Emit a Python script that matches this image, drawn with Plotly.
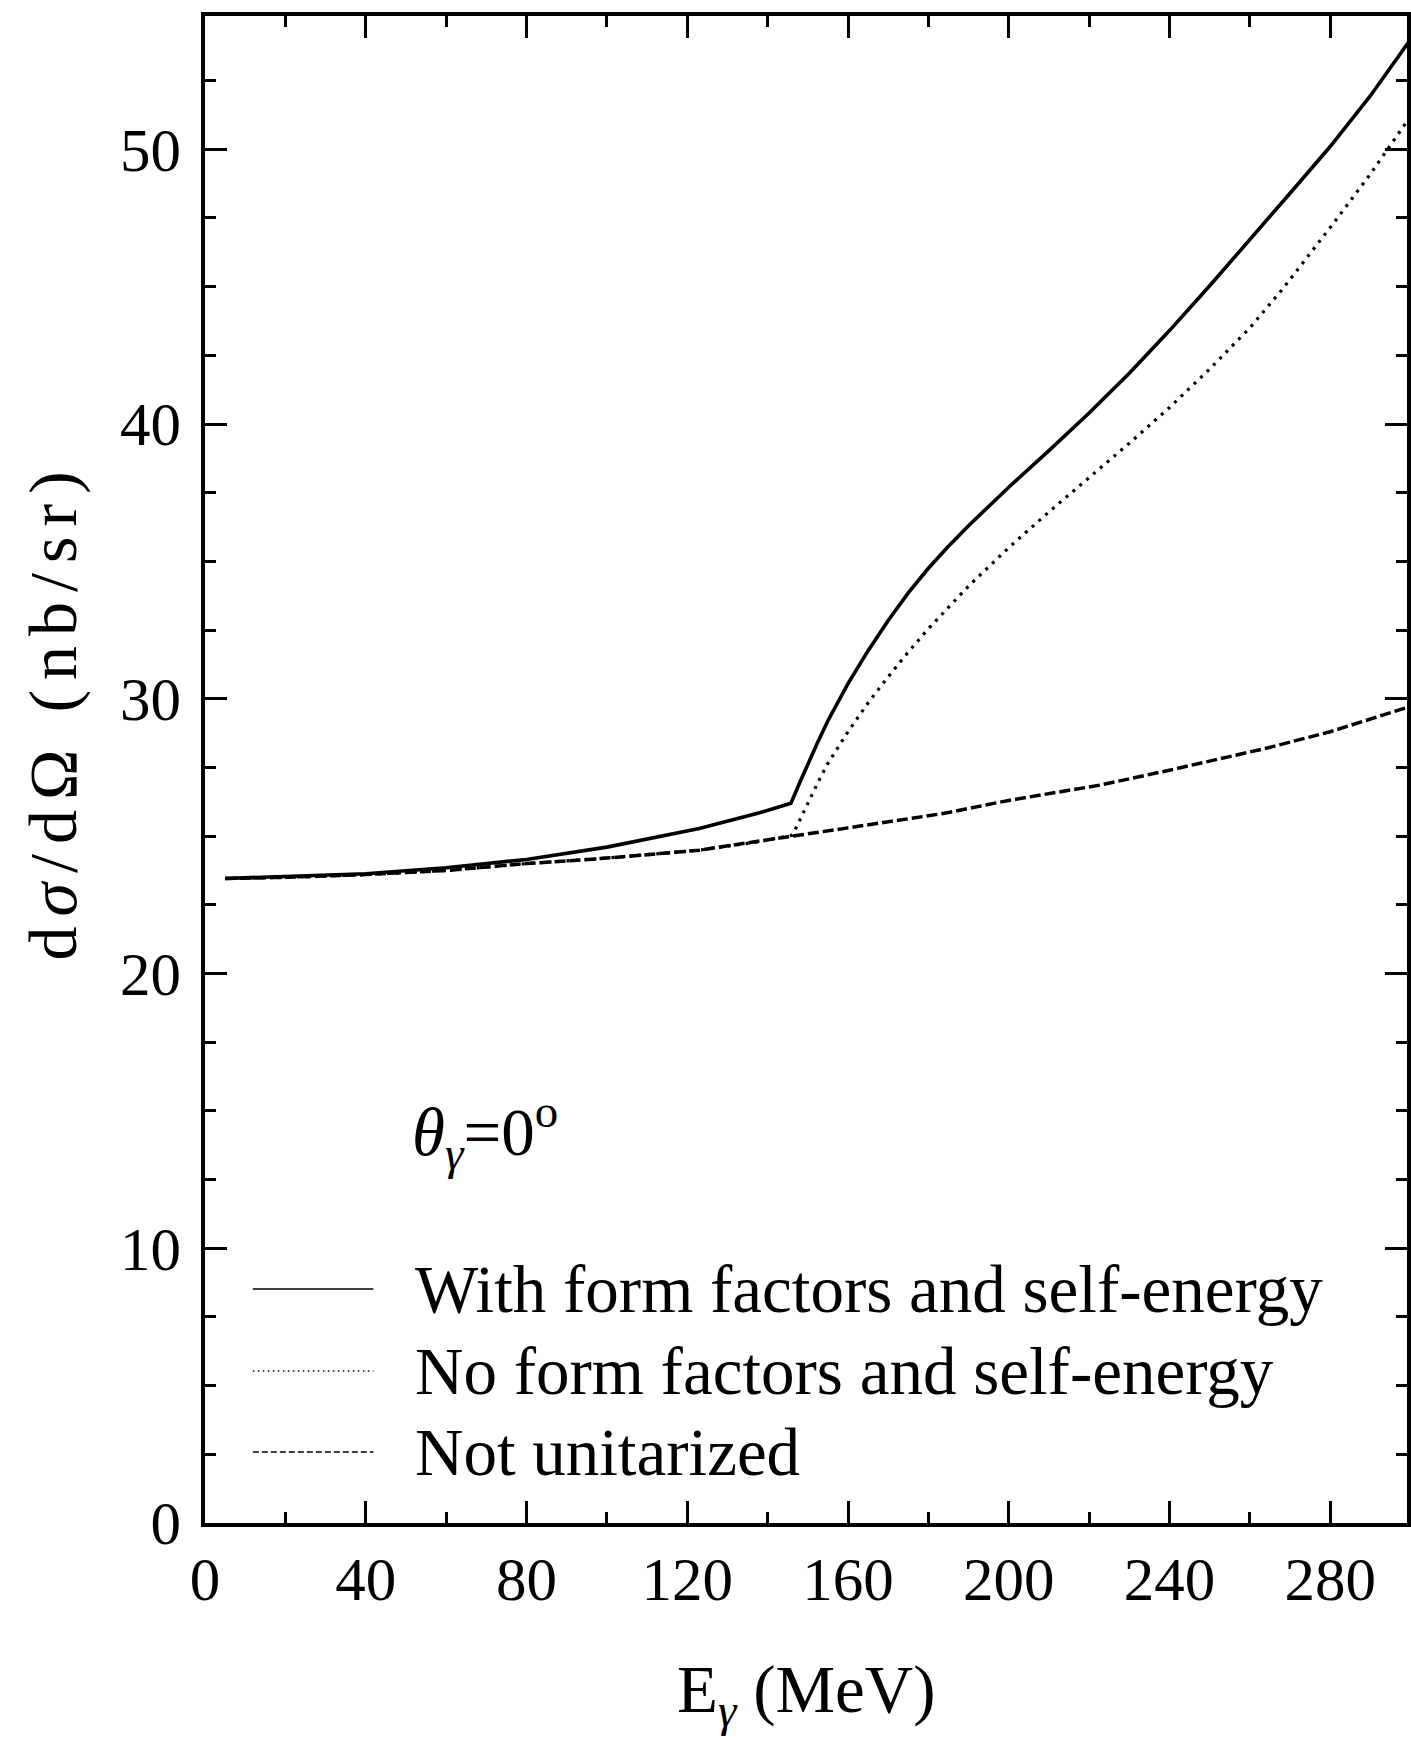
import plotly.graph_objects as go

# ---------------- data ----------------
E_with = [5, 20, 40, 60, 80, 100, 123, 138, 145.8, 148, 150, 152.5, 155, 157.5, 160, 165,
          170, 175, 180, 185, 190, 195, 200, 210, 220, 230, 240, 250, 260, 270, 280,
          290, 299.5]
V_with = [23.46, 23.52, 23.63, 23.85, 24.15, 24.6, 25.28, 25.85, 26.2, 26.95, 27.63, 28.43,
          29.2, 29.88, 30.55, 31.75, 32.85, 33.85, 34.75, 35.55, 36.3, 37.0, 37.7, 39.03,
          40.4, 41.85, 43.4, 45.03, 46.7, 48.4, 50.1, 51.95, 53.9]

E_noff = [5, 20, 40, 60, 80, 100, 123, 138, 146.2, 150, 152.5, 155, 157.5, 160, 165, 170,
          175, 180, 190, 200, 210, 220, 230, 240, 250, 260, 267.8, 280, 290, 299.5]
V_noff = [23.46, 23.5, 23.6, 23.75, 24.0, 24.2, 24.49, 24.8, 25.04, 26.2, 26.95, 27.65,
          28.25, 28.8, 29.85, 30.8, 31.7, 32.55, 34.1, 35.5, 36.8, 38.05, 39.3, 40.6,
          42.0, 43.5, 44.85, 47.15, 49.1, 51.1]

E_nonu = [5, 20, 40, 60, 80, 100, 123.1, 138, 145.2, 160, 184, 200, 222.8, 240, 263.8, 280, 299.5]
V_nonu = [23.46, 23.5, 23.6, 23.75, 24.0, 24.2, 24.49, 24.8, 24.98, 25.3, 25.83, 26.3, 26.86,
          27.4, 28.19, 28.8, 29.7]

legend_labels = ["With form factors and self-energy",
                 "No form factors and self-energy",
                 "Not unitarized"]

x_ticks = [0, 40, 80, 120, 160, 200, 240, 280]
y_ticks = [0, 10, 20, 30, 40, 50]

# ---------------- figure ----------------
W, H = 1411, 1737
ML, MR, MT, MB = 205, 0, 16, 214
PW, PH = W - ML - MR, H - MT - MB

def px(xp):
    return (xp - ML) / PW

def py(yp):
    return (H - MB - yp) / PH

FONT = "Liberation Serif, Times New Roman, serif"

fig = go.Figure()
fig.add_trace(go.Scatter(x=E_nonu, y=V_nonu, mode="lines", name=legend_labels[2],
                         line=dict(color="black", width=3.5, dash="11px,4px"),
                         showlegend=False))
fig.add_trace(go.Scatter(x=E_noff, y=V_noff, mode="lines", name=legend_labels[1],
                         line=dict(color="black", width=3.2, dash="3px,6px"),
                         showlegend=False))
fig.add_trace(go.Scatter(x=E_with, y=V_with, mode="lines", name=legend_labels[0],
                         line=dict(color="black", width=3.6), showlegend=False))

axis_common = dict(
    showline=True, linecolor="black", linewidth=3.5,
    ticks="inside", ticklen=22, tickwidth=2.8, tickcolor="black",
    mirror="ticks", showgrid=False, zeroline=False,
    tickfont=dict(family=FONT, size=61, color="black"),
)

fig.update_xaxes(range=[0, 299.1], tickvals=x_ticks, ticktext=[str(v) for v in x_ticks],
                 ticklabelstandoff=0,
                 minor=dict(dtick=20, tick0=0, ticks="inside", ticklen=11, tickwidth=2.8,
                            tickcolor="black", showgrid=False),
                 **axis_common)
fig.update_yaxes(range=[0, 54.85], tickvals=y_ticks, ticktext=[str(v) for v in y_ticks],
                 ticklabelstandoff=8,
                 minor=dict(dtick=2.5, tick0=0, ticks="inside", ticklen=11, tickwidth=2.8,
                            tickcolor="black", showgrid=False),
                 **axis_common)

annotations = []
# axis titles
annotations.append(dict(xref="paper", yref="paper", x=px(809), y=py(1694),
                        text="E<sub><i>γ</i></sub> (MeV)", showarrow=False,
                        xanchor="center", yanchor="middle",
                        font=dict(family=FONT, size=67, color="black")))
annotations.append(dict(xref="paper", yref="paper", x=px(52), y=py(711),
                        text='<span style="letter-spacing:10px">d<i>σ</i>/dΩ (nb/sr)</span>',
                        showarrow=False, textangle=-90,
                        xanchor="center", yanchor="middle",
                        font=dict(family=FONT, size=68, color="black")))
# angle label
annotations.append(dict(xref="paper", yref="paper", x=px(411), y=py(1132),
                        text="<i>θ</i><sub><i>γ</i></sub>=0<sup>o</sup>", showarrow=False,
                        xanchor="left", yanchor="middle",
                        font=dict(family=FONT, size=67, color="black")))

# legend (manual)
leg_y = [1289, 1371, 1452]
leg_dash = ["solid", "1.5px,3.5px", "6px,3px"]
shapes = []
for lab, yy, dsh in zip(legend_labels, leg_y, leg_dash):
    shapes.append(dict(type="line", xref="paper", yref="paper",
                       x0=px(253), x1=px(374), y0=py(yy), y1=py(yy),
                       line=dict(color="black", width=1.6, dash=dsh)))
    annotations.append(dict(xref="paper", yref="paper", x=px(414), y=py(yy),
                            text=lab, showarrow=False, xanchor="left", yanchor="middle",
                            font=dict(family=FONT, size=67, color="black")))

fig.update_layout(
    width=W, height=H,
    margin=dict(l=ML, r=MR, t=MT, b=MB, pad=0),
    paper_bgcolor="white", plot_bgcolor="white",
    showlegend=False,
    annotations=annotations, shapes=shapes,
    font=dict(family=FONT, color="black"),
)

fig.write_html("out.html",
               config={"displayModeBar": False},
               post_script="document.body.style.margin='0px';"
                           "document.body.style.padding='0px';"
                           "document.documentElement.style.overflow='hidden';")
